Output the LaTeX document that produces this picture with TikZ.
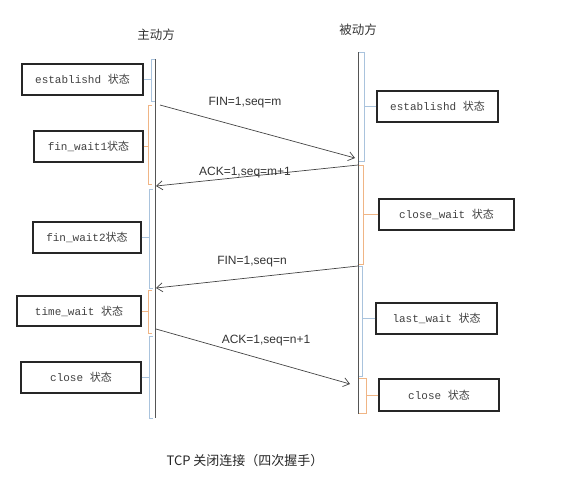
\documentclass[tikz,border=0pt]{standalone}
\usepackage{fontspec}
\setmainfont{Liberation Sans}
\setmonofont{Liberation Mono}
\newfontfamily\cjk{Noto Sans CJK SC}
\usetikzlibrary{arrows.meta}
\definecolor{lineg}{HTML}{555555}
\definecolor{arrg}{HTML}{444444}
\definecolor{brblue}{HTML}{A9C3DD}
\definecolor{brorange}{HTML}{F0B585}
\begin{document}
\begin{tikzpicture}[x=1pt,y=-1pt,
  statebox/.style={draw=black!85, line width=1.2pt, inner sep=0pt,
    font=\fontsize{11}{13}\selectfont\ttfamily, text=black!75},
  msglabel/.style={font=\fontsize{12}{14}\selectfont, text=black!80, inner sep=1pt},
  msgarrow/.style={draw=arrg, line width=0.7pt, -{Straight Barb[length=6pt,width=9pt]}},
  timeline/.style={draw=lineg, line width=0.8pt},
  bblue/.style={draw=brblue, line width=0.8pt},
  borange/.style={draw=brorange, line width=0.8pt},
  titletext/.style={font=\cjk\fontsize{12.5}{14}\selectfont, text=black!80}
]
\useasboundingbox (0,0) rectangle (567,488);

% titles
\node[titletext] (tl) at (156,35) {主动方};
\node[titletext] (tr) at (358,30) {被动方};

% timelines
\coordinate (L0) at (155,59);
\coordinate (L1) at (155,418);
\coordinate (R0) at (358,52);
\coordinate (R1) at (358,414);
\draw[timeline] (L0) -- (L1);
\draw[timeline] (R0) -- (R1);

% state boxes
\node[statebox, minimum width=121pt, minimum height=31pt] (le) at (82.5,79.5) {establishd {\cjk 状态}};
\node[statebox, minimum width=109pt, minimum height=31pt] (lf1) at (88.5,146.5) {fin\_wait1{\cjk 状态}};
\node[statebox, minimum width=108pt, minimum height=31pt] (lf2) at (87,237.5) {fin\_wait2{\cjk 状态}};
\node[statebox, minimum width=124pt, minimum height=30pt] (lt) at (79,311) {time\_wait {\cjk 状态}};
\node[statebox, minimum width=120pt, minimum height=31pt] (lc) at (81,377.5) {close {\cjk 状态}};
\node[statebox, minimum width=121pt, minimum height=31pt] (re) at (437.5,106.5) {establishd {\cjk 状态}};
\node[statebox, minimum width=135pt, minimum height=31pt] (rcw) at (446.5,214.5) {close\_wait {\cjk 状态}};
\node[statebox, minimum width=121pt, minimum height=31pt] (rl) at (436.5,318.5) {last\_wait {\cjk 状态}};
\node[statebox, minimum width=120pt, minimum height=32pt] (rc) at (439,395) {close {\cjk 状态}};

% left brackets
\draw[bblue]   (155,59)  -- (151,59)  -- (151,101) -- (155,101);
\draw[borange] (152,105) -- (148,105) -- (148,184) -- (152,184);
\draw[bblue]   (153,189) -- (149,189) -- (149,288) -- (153,288);
\draw[borange] (152,290) -- (148,290) -- (148,333) -- (152,333);
\draw[bblue]   (153,336) -- (149,336) -- (149,418) -- (153,418);
% right brackets
\draw[bblue]   (359,52)  -- (364,52)  -- (364,161) -- (359,161);
\draw[borange] (359,165) -- (363,165) -- (363,264) -- (359,264);
\draw[bblue]   (359,266) -- (362,266) -- (362,376) -- (359,376);
\draw[borange] (359,378) -- (366,378) -- (366,413) -- (359,413);

% ticks from brackets to boxes
\draw[bblue]   (le.east)  -- (le.east -| 151,0);
\draw[borange] (lf1.east) -- (lf1.east -| 148,0);
\draw[bblue]   (lf2.east) -- (lf2.east -| 149,0);
\draw[borange] (lt.east)  -- (lt.east -| 148,0);
\draw[bblue]   (lc.east)  -- (lc.east -| 149,0);
\draw[bblue]   (re.west)  -- (re.west -| 364,0);
\draw[borange] (rcw.west) -- (rcw.west -| 363,0);
\draw[bblue]   (rl.west)  -- (rl.west -| 362,0);
\draw[borange] (rc.west)  -- (rc.west -| 366,0);

% messages
\coordinate (m1s) at (160,105);
\coordinate (m1e) at (355,158);
\coordinate (m2s) at (358,165);
\coordinate (m2e) at (156,186);
\coordinate (m3s) at (358,266);
\coordinate (m3e) at (156,288);
\coordinate (m4s) at (156,329);
\coordinate (m4e) at (350,384);
\draw[msgarrow] (m1s) -- (m1e);
\draw[msgarrow] (m2s) -- (m2e);
\draw[msgarrow] (m3s) -- (m3e);
\draw[msgarrow] (m4s) -- (m4e);
\node[msglabel] (l1) at (245,103) {FIN=1,seq=m};
\node[msglabel] (l2) at (245,173) {ACK=1,seq=m+1};
\node[msglabel] (l3) at (252,262) {FIN=1,seq=n};
\node[msglabel] (l4) at (266,341) {ACK=1,seq=n+1};

% caption
\node[font=\cjk\fontsize{13}{15}\selectfont, text=black!85] (cap) at (245,461) {TCP 关闭连接（四次握手）};
\end{tikzpicture}
\end{document}
